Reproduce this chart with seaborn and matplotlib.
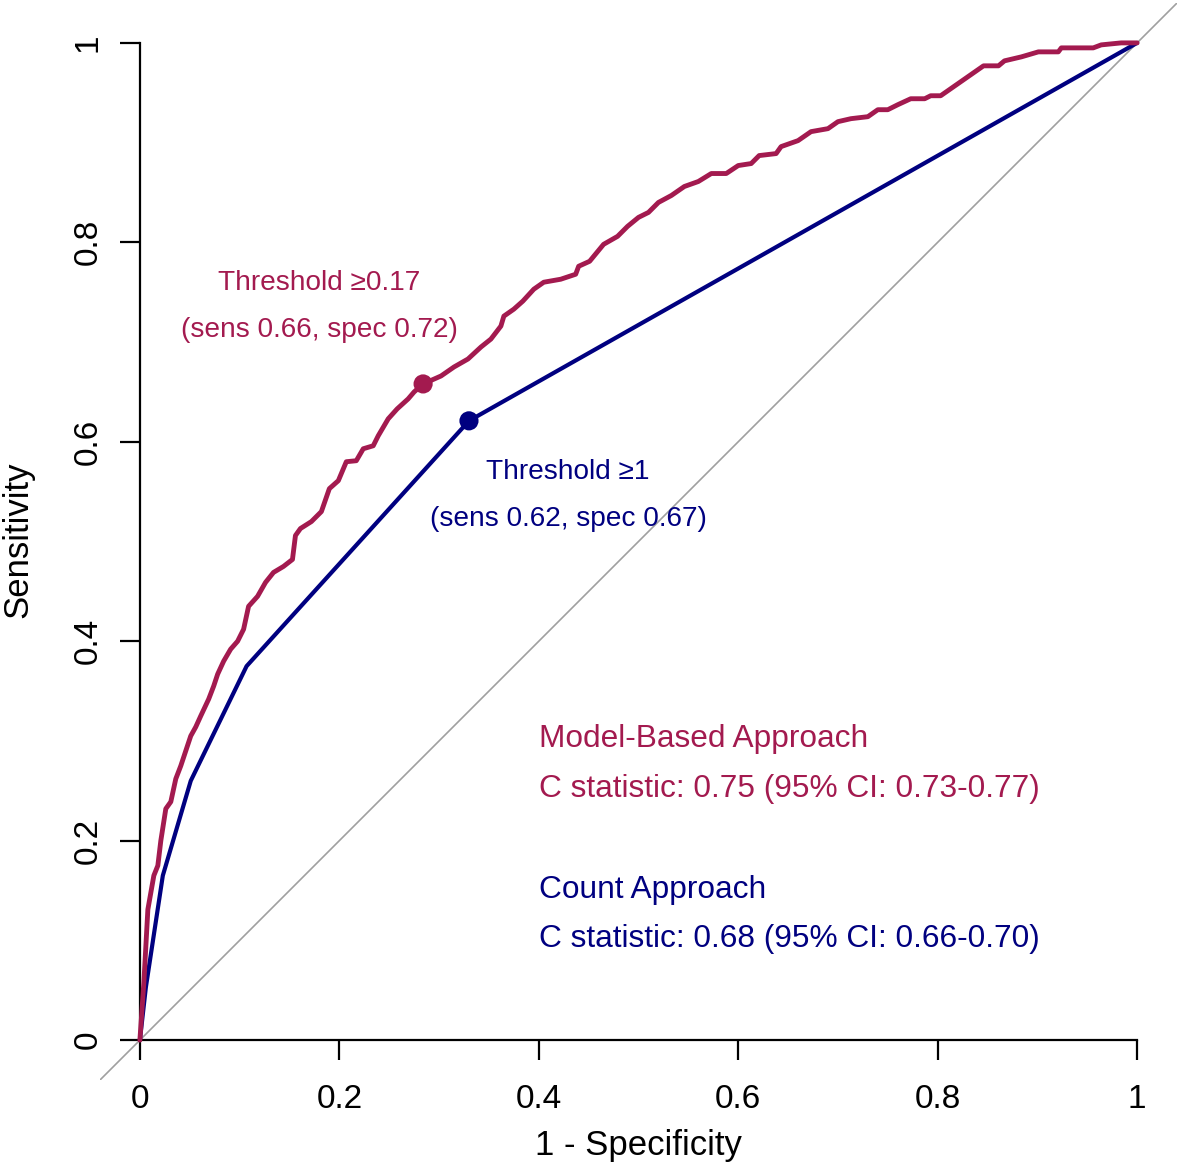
import numpy as np
import pandas as pd
import matplotlib
matplotlib.use("Agg")
import matplotlib.pyplot as plt
import seaborn as sns

# ---- data ----
model_fpr = [0, 0.004, 0.008, 0.011, 0.014, 0.018, 0.021, 0.026, 0.031, 0.036, 0.041, 0.046,
             0.051, 0.056, 0.061, 0.069, 0.074, 0.078, 0.084, 0.091, 0.098, 0.104, 0.109, 0.118,
             0.126, 0.134, 0.144, 0.153, 0.156, 0.161, 0.172, 0.182, 0.19, 0.199, 0.207, 0.217,
             0.224, 0.234, 0.239, 0.249, 0.258, 0.269, 0.275, 0.284, 0.302, 0.315, 0.329, 0.342,
             0.352, 0.362, 0.365, 0.375, 0.384, 0.395, 0.405, 0.422, 0.437, 0.44, 0.451, 0.465,
             0.479, 0.489, 0.5, 0.51, 0.52, 0.533, 0.546, 0.56, 0.573, 0.588, 0.6, 0.613, 0.621,
             0.638, 0.643, 0.66, 0.673, 0.69, 0.7, 0.713, 0.73, 0.74, 0.75, 0.76, 0.773, 0.787,
             0.793, 0.803, 0.846, 0.861, 0.867, 0.884, 0.901, 0.921, 0.924, 0.956, 0.964, 0.984, 1.0]
model_sens = [0, 0.058, 0.131, 0.148, 0.165, 0.175, 0.2, 0.232, 0.239, 0.262, 0.275, 0.29,
              0.305, 0.314, 0.325, 0.342, 0.355, 0.367, 0.38, 0.392, 0.4, 0.412, 0.435, 0.445,
              0.459, 0.469, 0.475, 0.482, 0.506, 0.513, 0.52, 0.53, 0.553, 0.561, 0.58, 0.581,
              0.593, 0.596, 0.606, 0.623, 0.633, 0.643, 0.65, 0.658, 0.666, 0.675, 0.683, 0.695,
              0.703, 0.716, 0.726, 0.733, 0.741, 0.753, 0.76, 0.763, 0.768, 0.776, 0.781, 0.798,
              0.806, 0.816, 0.825, 0.83, 0.84, 0.847, 0.856, 0.861, 0.869, 0.869, 0.877, 0.879, 0.887,
              0.889, 0.896, 0.902, 0.911, 0.914, 0.921, 0.924, 0.926, 0.933, 0.933, 0.938, 0.944, 0.944,
              0.947, 0.947, 0.977, 0.977, 0.982, 0.986, 0.991, 0.991, 0.995, 0.995, 0.998, 1.0, 1.0]

count_fpr = [0, 0.006, 0.023, 0.051, 0.107, 0.33, 1.0]
count_sens = [0, 0.053, 0.165, 0.26, 0.375, 0.621, 1.0]

thresh_fpr = [0.284, 0.33]
thresh_sens = [0.658, 0.621]

ticks = [0, 0.2, 0.4, 0.6, 0.8, 1]
tick_labels = ["0", "0.2", "0.4", "0.6", "0.8", "1"]

RED = "#A31A4F"
BLUE = "#000080"

sns.set_style("white")
plt.rcParams["font.family"] = ["Liberation Sans", "DejaVu Sans"]

W, H = 1181, 1169
fig = plt.figure(figsize=(W / 100, H / 100), dpi=100)
ax = fig.add_axes([100 / W, (H - 1080) / H, 1077 / W, 1077 / H])
ax.set_xlim(-0.04, 1.04)
ax.set_ylim(-0.04, 1.04)

# diagonal reference
ax.axline((0, 0), (1, 1), color="#A0A0A0", lw=1.2, zorder=1)

df_model = pd.DataFrame({"fpr": model_fpr, "sens": model_sens})
df_count = pd.DataFrame({"fpr": count_fpr, "sens": count_sens})
sns.lineplot(data=df_count, x="fpr", y="sens", sort=False, estimator=None,
             color=BLUE, lw=3.0, ax=ax, zorder=3)
sns.lineplot(data=df_model, x="fpr", y="sens", sort=False, estimator=None,
             color=RED, lw=3.5, ax=ax, zorder=4)
sns.scatterplot(x=thresh_fpr, y=thresh_sens, hue=["m", "c"], palette={"m": RED, "c": BLUE},
                s=190, edgecolor="none", legend=False, ax=ax, zorder=5)

# axes styling (R-like)
for s in ["top", "right"]:
    ax.spines[s].set_visible(False)
ax.spines["left"].set_position(("data", 0))
ax.spines["bottom"].set_position(("data", 0))
ax.spines["left"].set_bounds(0, 1)
ax.spines["bottom"].set_bounds(0, 1)
for s in ["left", "bottom"]:
    ax.spines[s].set_linewidth(1.6)
    ax.spines[s].set_color("black")
ax.set_xticks(ticks)
ax.set_xticklabels(tick_labels)
ax.set_yticks(ticks)
ax.set_yticklabels(tick_labels, rotation=90, va="center")
ax.tick_params(axis="both", which="major", bottom=True, left=True, direction="out",
               length=14.4, width=1.6, color="black", labelsize=24, labelcolor="black")
ax.tick_params(axis="x", pad=17)
ax.tick_params(axis="y", pad=11.5)
ax.set_xlabel("")
ax.set_ylabel("")
ax.grid(False)

fig.text(638 / W, 1 - 1145 / H, "1 - Specificity", ha="center", va="center",
         fontsize=25, color="black")
fig.text(18 / W, 1 - 540 / H, "Sensitivity", ha="center", va="center", rotation=90,
         fontsize=25, color="black")

# annotations
ax.text(0.18, 0.759, "Threshold \u22650.17", color=RED, fontsize=20.2, ha="center", va="center")
ax.text(0.18, 0.712, "(sens 0.66, spec 0.72)", color=RED, fontsize=20.2, ha="center", va="center")
ax.text(0.429, 0.570, "Threshold \u22651", color=BLUE, fontsize=20.2, ha="center", va="center")
ax.text(0.43, 0.523, "(sens 0.62, spec 0.67)", color=BLUE, fontsize=20.2, ha="center", va="center")

ax.text(0.40, 0.302, "Model-Based Approach", color=RED, fontsize=22.8, ha="left", va="center")
ax.text(0.40, 0.252, "C statistic: 0.75 (95% CI: 0.73-0.77)", color=RED, fontsize=22.8,
        ha="left", va="center")
ax.text(0.40, 0.151, "Count Approach", color=BLUE, fontsize=22.8, ha="left", va="center")
ax.text(0.40, 0.101, "C statistic: 0.68 (95% CI: 0.66-0.70)", color=BLUE, fontsize=22.8,
        ha="left", va="center")

fig.savefig("out.png", dpi=100, facecolor="white")
